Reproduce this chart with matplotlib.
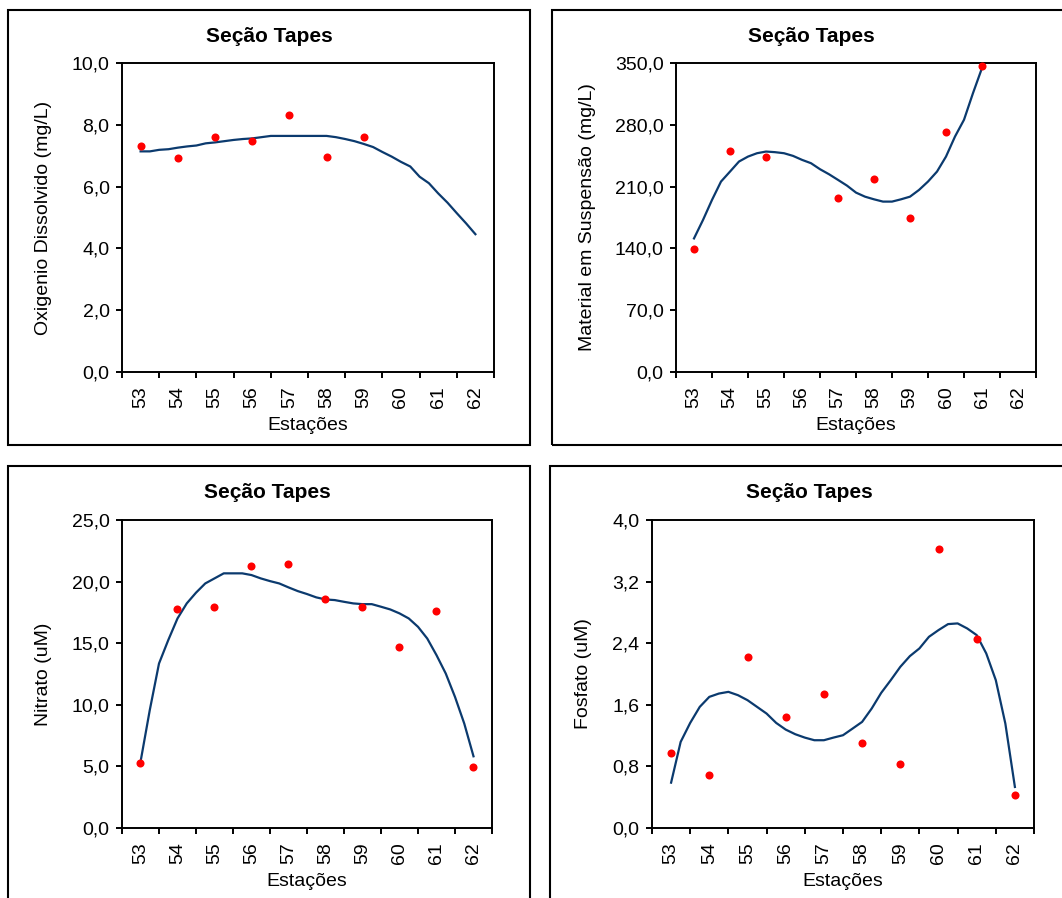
from __future__ import annotations

import math

import matplotlib

matplotlib.use("Agg")
import matplotlib.pyplot as plt
from matplotlib.patches import Rectangle
from matplotlib.ticker import FixedLocator, FuncFormatter, NullFormatter


FIG_W, FIG_H = 1062, 898
NAN = math.nan

STATIONS = [53, 54, 55, 56, 57, 58, 59, 60, 61, 62]
STATION_LABELS = ["53", "54", "55", "56", "57", "58", "59", "60", "61", "62"]

TREND_STATIONS = [
    53.0, 53.25, 53.5, 53.75, 54.0, 54.25, 54.5, 54.75, 55.0, 55.25,
    55.5, 55.75, 56.0, 56.25, 56.5, 56.75, 57.0, 57.25, 57.5, 57.75,
    58.0, 58.25, 58.5, 58.75, 59.0, 59.25, 59.5, 59.75, 60.0, 60.25,
    60.5, 60.75, 61.0, 61.25, 61.5, 61.75, 62.0,
]

OXIGENIO_OBS = [7.30, 6.91, 7.62, 7.47, 8.32, 6.97, 7.62, NAN, NAN, NAN]
OXIGENIO_TREND = [
    7.14, 7.14, 7.19, 7.21, 7.26, 7.30, 7.33, 7.40, 7.43, 7.47,
    7.51, 7.54, 7.56, 7.60, 7.64, 7.64, 7.64, 7.64, 7.64, 7.64,
    7.64, 7.60, 7.54, 7.47, 7.38, 7.28, 7.12, 6.97, 6.80, 6.65,
    6.32, 6.11, 5.78, 5.48, 5.14, 4.81, 4.46,
]

MATERIAL_OBS = [139.2, 250.5, 244.0, NAN, 197.5, 218.7, 174.8, 272.4, 346.2, NAN]
MATERIAL_TREND = [
    151.3, 172.2, 194.9, 215.7, 227.0, 238.4, 244.0, 247.8, 249.7, 249.0,
    247.8, 244.8, 240.3, 236.5, 229.7, 224.0, 217.6, 211.1, 203.2, 198.6,
    195.6, 193.0, 193.0, 195.6, 198.6, 206.2, 215.7, 227.0, 244.0, 266.7,
    285.7, 315.9, 344.3,
]

NITRATO_OBS = [5.28, 17.77, 17.96, 21.29, 21.45, 18.61, 17.96, 14.71, 17.63, 4.96]
NITRATO_TREND = [
    5.36, 9.56, 13.35, 15.25, 17.01, 18.23, 19.10, 19.85, 20.26, 20.67,
    20.67, 20.67, 20.53, 20.26, 20.04, 19.85, 19.53, 19.23, 18.99, 18.72,
    18.55, 18.50, 18.36, 18.23, 18.17, 18.17, 17.96, 17.74, 17.42, 17.01,
    16.33, 15.38, 14.03, 12.54, 10.64, 8.48, 5.82,
]

FOSFATO_OBS = [0.975, 0.689, 2.223, 1.443, 1.742, 1.105, 0.832, 3.627, 2.457, 0.429]
FOSFATO_TREND = [
    0.589, 1.118, 1.365, 1.573, 1.703, 1.746, 1.768, 1.725, 1.660, 1.573,
    1.486, 1.365, 1.278, 1.218, 1.174, 1.140, 1.140, 1.174, 1.205, 1.291,
    1.378, 1.551, 1.755, 1.920, 2.093, 2.232, 2.332, 2.483, 2.570, 2.648,
    2.657, 2.592, 2.505, 2.267, 1.920, 1.356, 0.533,
]

OXIGENIO_TICKS = [0.0, 2.0, 4.0, 6.0, 8.0, 10.0]
MATERIAL_TICKS = [0.0, 70.0, 140.0, 210.0, 280.0, 350.0]
NITRATO_TICKS = [0.0, 5.0, 10.0, 15.0, 20.0, 25.0]
FOSFATO_TICKS = [0.0, 0.8, 1.6, 2.4, 3.2, 4.0]

TITLE = "Seção Tapes"
XLABEL = "Estações"

LINE_COLOR = "#0b3a6e"
DOT_COLOR = "#ff0000"

# pixel layout, y measured from the top of the image
PANELS = [
    dict(frame=(8, 10, 530, 445), axes=(122, 63, 494, 372), ylabel_x=44, title=(269, 37), xlabel_y=425),
    dict(frame=(552, 10, 1072, 445), axes=(676, 63, 1036, 372), ylabel_x=588, title=(811, 37), xlabel_y=425),
    dict(frame=(8, 466, 530, 910), axes=(122, 520, 492, 828), ylabel_x=44, title=(267, 493), xlabel_y=882),
    dict(frame=(550, 466, 1072, 910), axes=(652, 520, 1034, 828), ylabel_x=584, title=(809, 493), xlabel_y=882),
]


def fx(px: float) -> float:
    return px / FIG_W


def fy(py: float) -> float:
    return 1 - py / FIG_H


def comma_fmt(v, _pos=None) -> str:
    return f"{v:.1f}".replace(".", ",")


def draw_panel(fig, layout, ylabel, yticks, obs, trend) -> None:
    x0, y0, x1, y1 = layout["frame"]
    fig.patches.append(
        Rectangle((fx(x0), fy(y1)), fx(x1) - fx(x0), fy(y0) - fy(y1),
                  transform=fig.transFigure, fill=False, edgecolor="black",
                  linewidth=1.5, clip_on=False)
    )

    a0, b0, a1, b1 = layout["axes"]
    ax = fig.add_axes((fx(a0), fy(b1), fx(a1) - fx(a0), fy(b0) - fy(b1)))

    ax.plot(TREND_STATIONS[: len(trend)], trend, color=LINE_COLOR, linewidth=1.6, zorder=2)
    ax.plot(STATIONS, obs, linestyle="none", marker="o", markersize=5.8,
            color=DOT_COLOR, markeredgewidth=0, zorder=3, clip_on=False)

    ax.set_xlim(STATIONS[0] - 0.5, STATIONS[-1] + 0.5)
    ax.set_ylim(yticks[0], yticks[-1])

    # tick marks sit between stations, labels at the stations
    ax.xaxis.set_major_locator(FixedLocator([s - 0.5 for s in STATIONS] + [STATIONS[-1] + 0.5]))
    ax.xaxis.set_major_formatter(NullFormatter())
    ax.xaxis.set_minor_locator(FixedLocator(STATIONS))
    ax.set_xticklabels(STATION_LABELS, minor=True, rotation=90)
    ax.tick_params(axis="x", which="major", direction="out", length=4.5, width=1.4)
    ax.tick_params(axis="x", which="minor", length=0, pad=10)

    ax.set_yticks(yticks)
    ax.yaxis.set_major_formatter(FuncFormatter(comma_fmt))
    ax.tick_params(axis="y", direction="out", length=4, width=1.4, pad=5)

    for sp in ax.spines.values():
        sp.set_linewidth(1.4)

    tx, ty = layout["title"]
    fig.text(fx(tx), fy(ty), TITLE, ha="center", va="center", fontweight="bold", fontsize=15)
    fig.text(fx((a0 + a1) / 2), fy(layout["xlabel_y"]), XLABEL, ha="center", va="center")
    fig.text(fx(layout["ylabel_x"]), fy((b0 + b1) / 2), ylabel, ha="center", va="center", rotation=90)


def main() -> None:
    plt.rcParams.update(
        {
            "font.family": ["Liberation Sans", "DejaVu Sans"],
            "font.size": 14,
            "xtick.labelsize": 14,
            "ytick.labelsize": 14,
        }
    )
    fig = plt.figure(figsize=(FIG_W / 100, FIG_H / 100), dpi=100)

    draw_panel(fig, PANELS[0], "Oxigenio Dissolvido (mg/L)", OXIGENIO_TICKS, OXIGENIO_OBS, OXIGENIO_TREND)
    draw_panel(fig, PANELS[1], "Material em Suspensão (mg/L)", MATERIAL_TICKS, MATERIAL_OBS, MATERIAL_TREND)
    draw_panel(fig, PANELS[2], "Nitrato (uM)", NITRATO_TICKS, NITRATO_OBS, NITRATO_TREND)
    draw_panel(fig, PANELS[3], "Fosfato (uM)", FOSFATO_TICKS, FOSFATO_OBS, FOSFATO_TREND)

    fig.savefig("out.png", dpi=100)
    plt.close(fig)


if __name__ == "__main__":
    main()
